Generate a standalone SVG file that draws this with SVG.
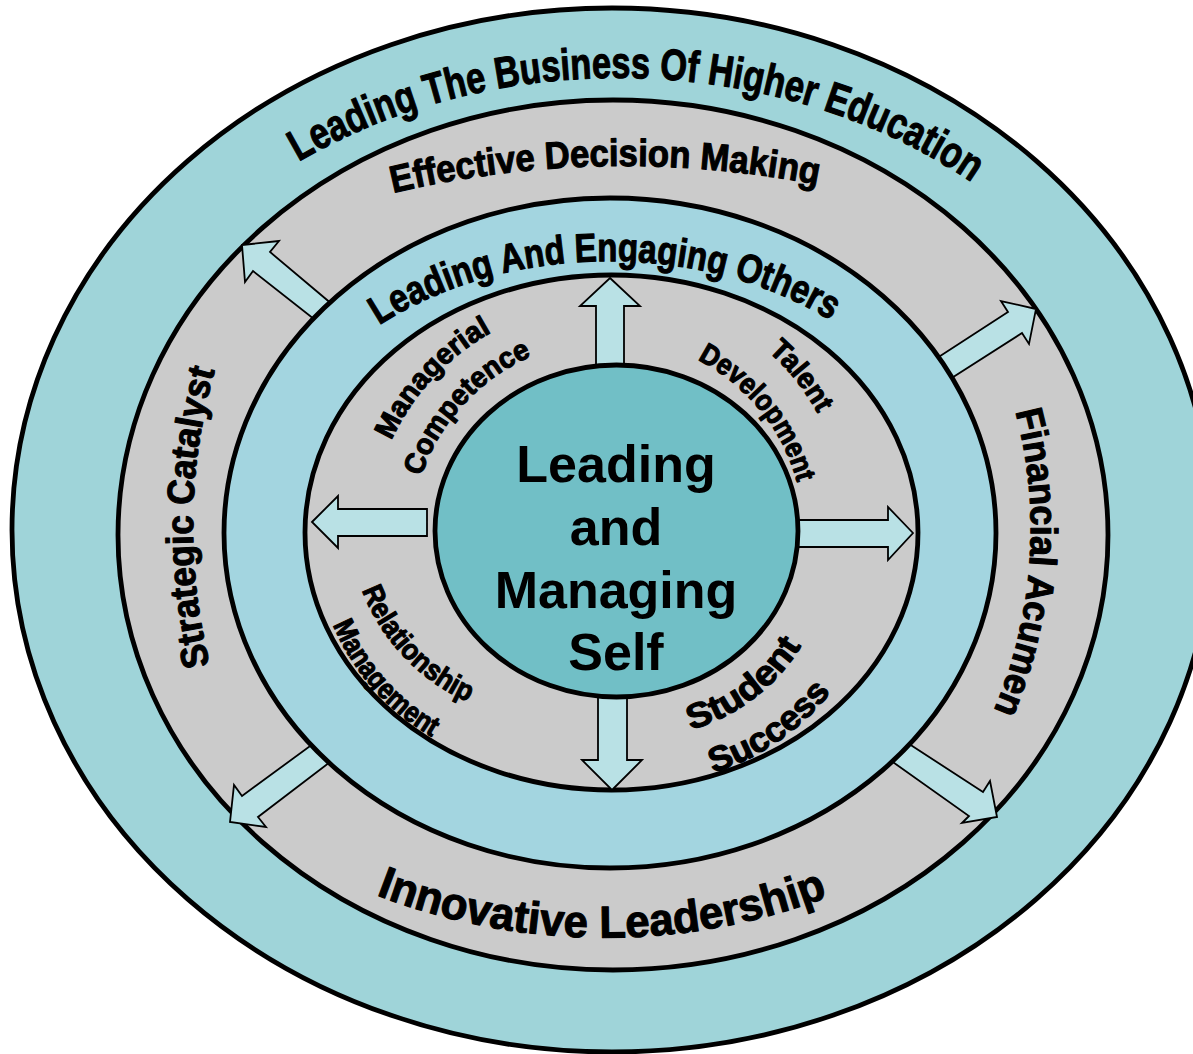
<svg xmlns="http://www.w3.org/2000/svg" width="1193" height="1054" viewBox="0 0 1193 1054">
  <style>
    .ring { stroke: #000; stroke-width: 4.8; }
    .teal { fill: #9fd4d9; }
    .gray { fill: #cbcbcb; }
    .blue { fill: #a3d5e0; }
    .core { fill: #71bfc6; }
    .arrow { fill: #b9e1e5; stroke: #000; stroke-width: 1.8; stroke-linejoin: miter; }
    text { font-family: "Liberation Sans", Arial, sans-serif; font-weight: bold; fill: #000; }
    .lbl { stroke: #000; stroke-width: 1.1; stroke-linejoin: round; }
    .big { font-size: 44px; }
    .mid { font-size: 38px; }
    .small { font-size: 29px; }
    .smallB { font-size: 35px; }
    .core-label { font-size: 52px; text-anchor: middle; }
  </style>
  <defs>
    <!-- baselines for the curved labels -->
    <path id="p-business" d="M 293 165 A 553 454 0 0 1 977 186"/>
    <path id="p-decision" d="M 393 193 A 1000 1000 0 0 1 818 185"/>
    <path id="p-engaging" d="M 375 328 A 355 270 0 0 1 835 323"/>
    <path id="p-strategic" d="M 210 665 A 571 571 0 0 1 215 370"/>
    <path id="p-financial" d="M 1015 410 A 419 440 0 0 1 993 712"/>
    <path id="p-innovative" d="M 376 895 A 634 634 0 0 0 828 897"/>
    <path id="p-managerial" d="M 391 441 A 240 240 0 0 1 492 332"/>
    <path id="p-competence" d="M 421 477 A 200 200 0 0 1 532 356"/>
    <path id="p-talent" d="M 768 351 A 235 235 0 0 1 818 414"/>
    <path id="p-development" d="M 698 360 A 195 195 0 0 1 797 482"/>
    <path id="p-relationship" d="M 362 590 A 200 200 0 0 0 468 702"/>
    <path id="p-management" d="M 333 625 A 235 235 0 0 0 432 737"/>
    <path id="p-student" d="M 690 730 A 190 190 0 0 0 802 645"/>
    <path id="p-success" d="M 713 773 A 240 240 0 0 0 831 692"/>
  </defs>

  <!-- outer ring: Leading The Business Of Higher Education -->
  <g id="ring-business">
    <ellipse class="ring teal" cx="612" cy="530" rx="600" ry="522"/>
  </g>

  <!-- second ring: decision making / catalyst / acumen / innovation -->
  <g id="ring-competencies">
    <ellipse class="ring gray" cx="613" cy="535" rx="495" ry="435"/>
  </g>

  <!-- outward arrows between the middle rings -->
  <g id="connectors-outer">
    <polygon class="arrow" points="242,245 279,241 270,252 333,305 319,323 253,271 245,282"/>
    <polygon class="arrow" points="1036,309 1001,301 1008,312 934,360 947,381 1022,333 1029,344"/>
    <polygon class="arrow" points="230,822 234,785 242,796 321,738 334,759 258,817 266,827"/>
    <polygon class="arrow" points="997,817 990,781 983,792 903,740 890,760 969,816 962,823"/>
  </g>

  <!-- third ring: Leading And Engaging Others -->
  <g id="ring-others">
    <ellipse class="ring blue" cx="610" cy="533" rx="386" ry="335"/>
  </g>

  <!-- inner ring: the four practice areas -->
  <g id="ring-practice">
    <ellipse class="ring gray" cx="611.5" cy="532.5" rx="306.5" ry="257.5"/>
  </g>

  <!-- arrows from the core -->
  <g id="connectors-inner">
    <polygon class="arrow" points="610,278 640,306 624,306 624,380 596,380 596,306 580,306"/>
    <polygon class="arrow" points="612,790 642,760 627,760 627,685 598,685 598,760 582,760"/>
    <polygon class="arrow" points="312,522 338,496 338,509 427,509 427,536 338,536 338,548"/>
    <polygon class="arrow" points="913,533 888,507 888,520 790,520 790,547 888,547 888,560"/>
  </g>

  <!-- core -->
  <g id="core-self">
    <ellipse class="ring core" cx="616.5" cy="531" rx="181.5" ry="166"/>
    <text class="core-label" x="616" y="482">Leading</text>
    <text class="core-label" x="616" y="545">and</text>
    <text class="core-label" x="616" y="608">Managing</text>
    <text class="core-label" x="616" y="670">Self</text>
  </g>

  <!-- ring labels -->
  <g id="label-business">
    <text class="lbl big"><textPath href="#p-business" startOffset="50%" text-anchor="middle" textLength="708" lengthAdjust="spacingAndGlyphs">Leading The Business Of Higher Education</textPath></text>
  </g>
  <g id="label-decision">
    <text class="lbl mid"><textPath href="#p-decision" startOffset="50%" text-anchor="middle" textLength="428" lengthAdjust="spacingAndGlyphs">Effective Decision Making</textPath></text>
  </g>
  <g id="label-strategic">
    <text class="lbl mid"><textPath href="#p-strategic" startOffset="50%" text-anchor="middle" textLength="298" lengthAdjust="spacingAndGlyphs">Strategic Catalyst</textPath></text>
  </g>
  <g id="label-financial">
    <text class="lbl mid"><textPath href="#p-financial" startOffset="50%" text-anchor="middle" textLength="305" lengthAdjust="spacingAndGlyphs">Financial Acumen</textPath></text>
  </g>
  <g id="label-innovative">
    <text class="lbl big" style="font-size:45px"><textPath href="#p-innovative" startOffset="50%" text-anchor="middle" textLength="462" lengthAdjust="spacingAndGlyphs">Innovative Leadership</textPath></text>
  </g>
  <g id="label-engaging">
    <text class="lbl mid" style="font-size:40px"><textPath href="#p-engaging" startOffset="50%" text-anchor="middle" textLength="474" lengthAdjust="spacingAndGlyphs">Leading And Engaging Others</textPath></text>
  </g>

  <!-- practice-area labels -->
  <g id="label-managerial">
    <text class="lbl small"><textPath href="#p-managerial" startOffset="50%" text-anchor="middle" textLength="150" lengthAdjust="spacingAndGlyphs">Managerial</textPath></text>
    <text class="lbl small"><textPath href="#p-competence" startOffset="50%" text-anchor="middle" textLength="168" lengthAdjust="spacingAndGlyphs">Competence</textPath></text>
  </g>
  <g id="label-talent">
    <text class="lbl small"><textPath href="#p-talent" startOffset="50%" text-anchor="middle" textLength="80" lengthAdjust="spacingAndGlyphs">Talent</textPath></text>
    <text class="lbl small"><textPath href="#p-development" startOffset="50%" text-anchor="middle" textLength="163" lengthAdjust="spacingAndGlyphs">Development</textPath></text>
  </g>
  <g id="label-relationship">
    <text class="lbl small"><textPath href="#p-relationship" startOffset="50%" text-anchor="middle" textLength="158" lengthAdjust="spacingAndGlyphs">Relationship</textPath></text>
    <text class="lbl small"><textPath href="#p-management" startOffset="50%" text-anchor="middle" textLength="152" lengthAdjust="spacingAndGlyphs">Management</textPath></text>
  </g>
  <g id="label-student">
    <text class="lbl smallB"><textPath href="#p-student" startOffset="50%" text-anchor="middle" textLength="142" lengthAdjust="spacingAndGlyphs">Student</textPath></text>
    <text class="lbl smallB"><textPath href="#p-success" startOffset="50%" text-anchor="middle" textLength="145" lengthAdjust="spacingAndGlyphs">Success</textPath></text>
  </g>
</svg>
